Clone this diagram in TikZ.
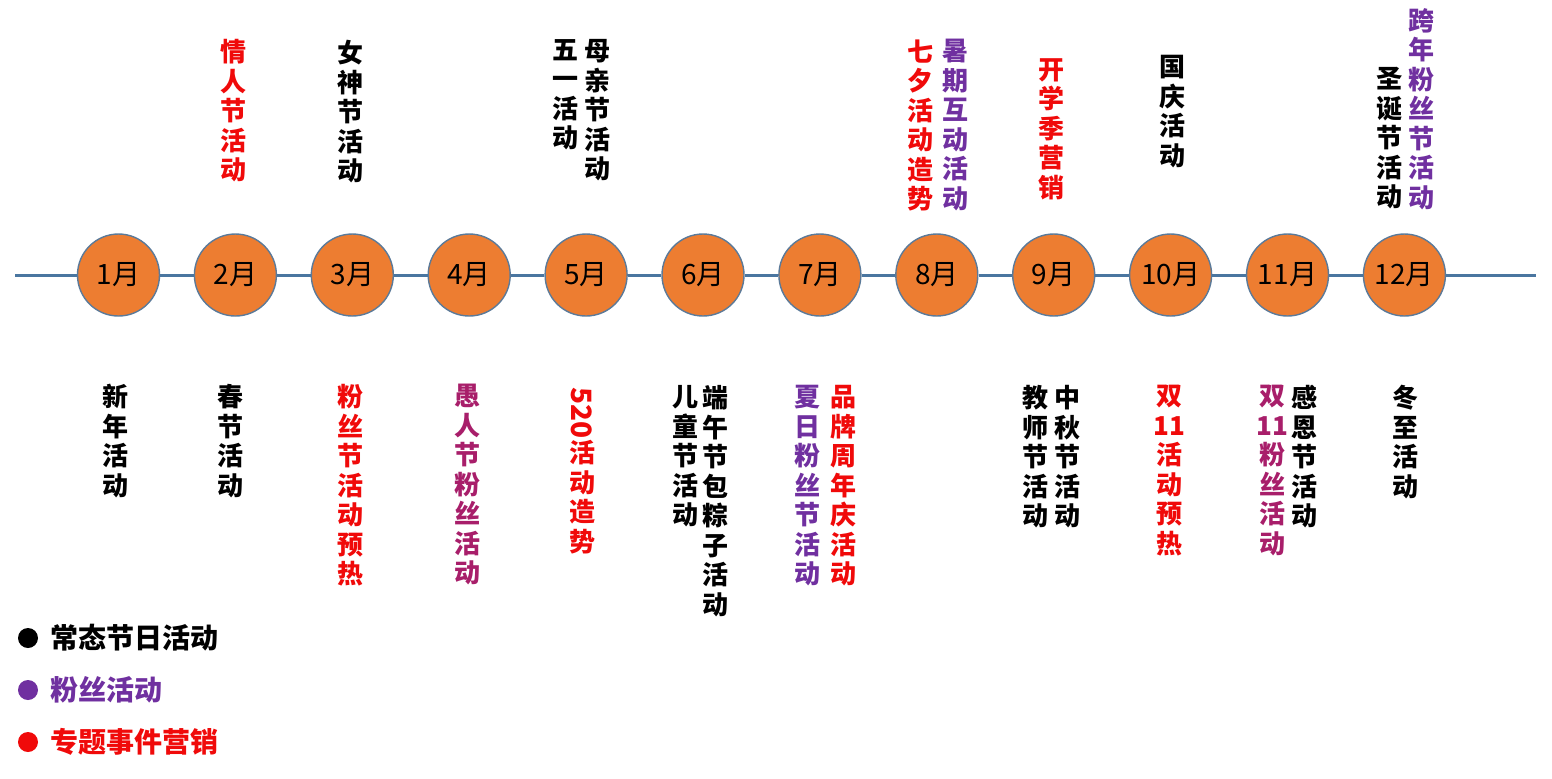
\documentclass[tikz,border=0pt]{standalone}
\usepackage{fontspec}
\usepackage{graphicx}
\usetikzlibrary{positioning}
\newfontfamily\cjk{Noto Sans CJK SC}
\definecolor{monthfill}{HTML}{ED7D31}
\definecolor{monthedge}{HTML}{5B7A99}
\definecolor{axisblue}{HTML}{4A76A0}
\definecolor{fanpurple}{HTML}{7030A0}
\definecolor{eventred}{HTML}{F00A0A}
\definecolor{mixred}{HTML}{A81E6A}

\begin{document}
\begin{tikzpicture}[x=0.5pt, y=-0.5pt,
		month/.style={circle, draw=monthedge, line width=0.7pt, fill=monthfill, minimum size=41pt, inner sep=0pt, font=\cjk\fontsize{14}{14}\selectfont},
		axis/.style={axisblue, line width=1.5pt},
		vlabel/.style={anchor=north, inner sep=0pt, align=center, font=\cjk\bfseries\fontsize{13}{14.75}\selectfont},
		legend/.style={anchor=west, inner sep=0pt, font=\cjk\bfseries\fontsize{14}{14}\selectfont},
		dot/.style={circle, fill=#1, minimum size=10pt, inner sep=0pt}]
		\useasboundingbox[fill=white] (0, 0) rectangle (1552, 778);
		\coordinate (lstart) at (15, 275);
		\coordinate (lend) at (1536, 275);
		\foreach \m in {1,...,12}
			\node[month] (m\m) at ({118.5 + (\m - 1) * 116.9}, 275) {\m 月};
		\draw[axis] (lstart) -- (m1);
		\foreach \m [evaluate=\m as \n using int(\m + 1)] in {1,...,11}
			\draw[axis] (m\m) -- (m\n);
		\draw[axis] (m12) -- (lend);
		% above the line
		\node[vlabel, eventred] (top2) at (233, 39) {情\\人\\节\\活\\动};
		\node[vlabel] (top3) at (350, 40) {女\\神\\节\\活\\动};
		\node[vlabel] (top5a) at (565, 39) {五\\一\\活\\动};
		\node[vlabel] (top5b) at (597, 39) {母\\亲\\节\\活\\动};
		\node[vlabel, eventred] (top8a) at (920, 39) {七\\夕\\活\\动\\造\\势};
		\node[vlabel, fanpurple] (top8b) at (955, 39) {暑\\期\\互\\动\\活\\动};
		\node[vlabel, eventred] (top9) at (1051, 58) {开\\学\\季\\营\\销};
		\node[vlabel] (top10) at (1172, 55) {国\\庆\\活\\动};
		\node[vlabel] (top12a) at (1389, 67) {圣\\诞\\节\\活\\动};
		\node[vlabel, fanpurple] (top12b) at (1421, 8) {跨\\年\\粉\\丝\\节\\活\\动};
		% below the line
		\node[vlabel] (bot1) at (115, 384) {新\\年\\活\\动};
		\node[vlabel] (bot2) at (230, 384) {春\\节\\活\\动};
		\node[vlabel, eventred] (bot3) at (350, 384) {粉\\丝\\节\\活\\动\\预\\热};
		\node[vlabel, mixred] (bot4) at (467, 384) {愚\\人\\节\\粉\\丝\\活\\动};
		\node[vlabel, eventred] (bot5) at (582, 387) {\rotatebox{-90}{\fontsize{14}{14}\selectfont 520}\\活\\动\\造\\势};
		\node[vlabel] (bot6a) at (685, 385) {儿\\童\\节\\活\\动};
		\node[vlabel] (bot6b) at (715, 385) {端\\午\\节\\包\\粽\\子\\活\\动};
		\node[vlabel, fanpurple] (bot7a) at (807, 385) {夏\\日\\粉\\丝\\节\\活\\动};
		\node[vlabel, eventred] (bot7b) at (843, 385) {品\\牌\\周\\年\\庆\\活\\动};
		\node[vlabel] (bot9a) at (1035, 385) {教\\师\\节\\活\\动};
		\node[vlabel] (bot9b) at (1067, 385) {中\\秋\\节\\活\\动};
		\node[vlabel, eventred] (bot10) at (1169, 385) {双\\11\\活\\动\\预\\热};
		\node[vlabel, mixred] (bot11a) at (1272, 385) {双\\11\\粉\\丝\\活\\动};
		\node[vlabel] (bot11b) at (1304, 385) {感\\恩\\节\\活\\动};
		\node[vlabel] (bot12) at (1405, 385) {冬\\至\\活\\动};
		% legend
		\node[dot=black] (k1) at (28, 638) {};
		\node[legend, right=6pt of k1] (t1) {常态节日活动};
		\node[dot=fanpurple] (k2) at (28, 690) {};
		\node[legend, fanpurple, right=6pt of k2] (t2) {粉丝活动};
		\node[dot=eventred] (k3) at (28, 742) {};
		\node[legend, eventred, right=6pt of k3] (t3) {专题事件营销};
	\end{tikzpicture}
\end{document}
